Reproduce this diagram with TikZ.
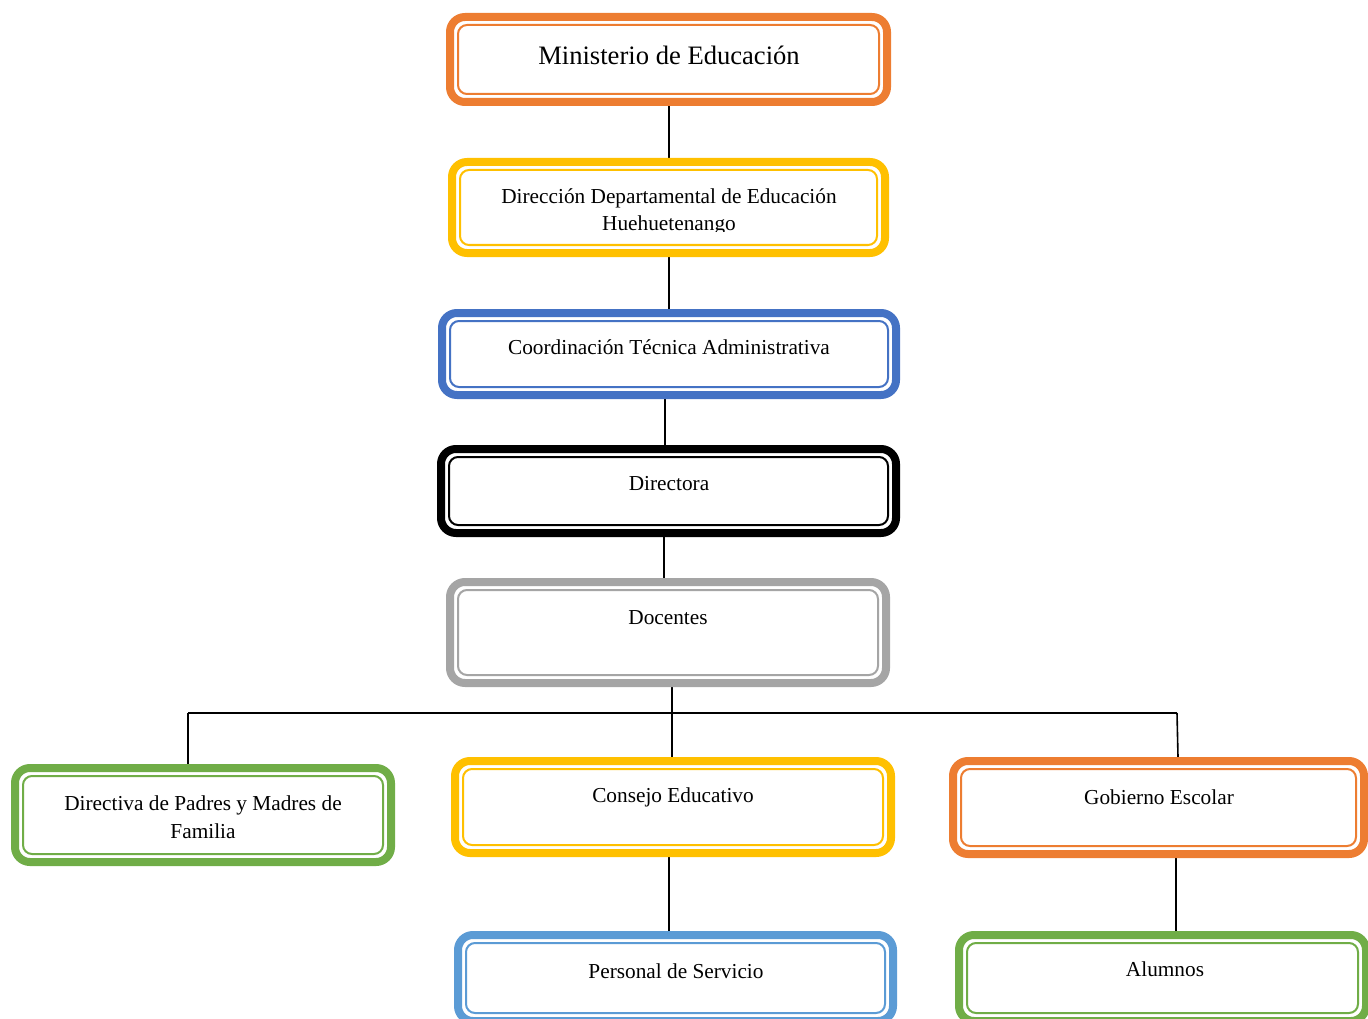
\documentclass[tikz,border=0pt]{standalone}
\usepackage{fontspec}
\setmainfont{Liberation Serif}
\usetikzlibrary{backgrounds}
\definecolor{cOrange}{HTML}{ED7D31}
\definecolor{cYellow}{HTML}{FFC000}
\definecolor{cBlue}{HTML}{4472C4}
\definecolor{cLBlue}{HTML}{5B9BD5}
\definecolor{cGrey}{HTML}{A5A5A5}
\definecolor{cGreen}{HTML}{70AD47}
\begin{document}
\begin{tikzpicture}[x=1pt,y=-1pt,
  orgbox/.style={draw=#1, line width=8pt, fill=white, rounded corners=15pt,
    inner sep=0pt,
    path picture={\draw[#1, line width=2pt, rounded corners=9pt]
      ([shift={(8pt,-8pt)}]path picture bounding box.north west) rectangle
      ([shift={(-8pt,8pt)}]path picture bounding box.south east);}},
  lbl/.style={font=\fontsize{21.3}{27.5}\selectfont, align=center, inner sep=0pt},
  conn/.style={draw=black, line width=1.6pt}]
\useasboundingbox (0,0) rectangle (1368,1019);
\begin{scope}
\clip (0,0) rectangle (1368,1019);
% boxes
\node[orgbox=cOrange, minimum width=437pt, minimum height=85pt] (min) at (668.5,59.5) {};
\node[orgbox=cYellow, minimum width=433pt, minimum height=91pt] (dir) at (668.5,207.5) {};
\node[orgbox=cBlue, minimum width=454pt, minimum height=82pt] (coord) at (669,354) {};
\node[orgbox=black, minimum width=455pt, minimum height=84pt] (dra) at (668.5,491) {};
\node[orgbox=cGrey, minimum width=436pt, minimum height=101pt] (doc) at (668,632.5) {};
\node[orgbox=cGreen, minimum width=376pt, minimum height=94pt] (pad) at (203,815) {};
\node[orgbox=cYellow, minimum width=436pt, minimum height=92pt] (con) at (673,807) {};
\node[orgbox=cOrange, minimum width=411pt, minimum height=93pt] (gob) at (1158.5,807.5) {};
\node[orgbox=cLBlue, minimum width=435pt, minimum height=86pt] (per) at (675.5,978) {};
\node[orgbox=cGreen, minimum width=407pt, minimum height=86pt] (alu) at (1162.5,978) {};
% labels
\node[lbl, font=\fontsize{26.6}{30}\selectfont] (tmin) at (669,55) {Ministerio de Educación};
\begin{scope}
\clip (450,160) rectangle (887,232);
\node[lbl] (tdir) at (669,212) {Dirección Departamental de Educación\\Huehuetenango};
\end{scope}
\node[lbl] (tcoord) at (669,347) {Coordinación Técnica Administrativa};
\node[lbl] (tdra) at (669,484) {Directora};
\node[lbl] (tdoc) at (668,618) {Docentes};
\node[lbl] (tpad) at (203,817) {Directiva de Padres y Madres de\\Familia};
\node[lbl] (tcon) at (673,797) {Consejo Educativo};
\node[lbl] (tgob) at (1159,797) {Gobierno Escolar};
\node[lbl] (tper) at (676,971) {Personal de Servicio};
\node[lbl] (talu) at (1165,969) {Alumnos};
% connectors
\coordinate (busL) at (188,713);
\coordinate (busR) at (1177,713);
\begin{scope}[on background layer]
\draw[conn] (669,0 |- min.south) -- (669,0 |- dir.north);
\draw[conn] (669,0 |- dir.south) -- (669,0 |- coord.north);
\draw[conn] (665,0 |- coord.south) -- (665,0 |- dra.north);
\draw[conn] (664,0 |- dra.south) -- (664,0 |- doc.north);
\draw[conn] (672,0 |- doc.south) -- (672,0 |- con.north);
\draw[conn] (busL) -- (busR);
\draw[conn] (busL) -- (188,0 |- pad.north);
\draw[conn] (busR) -- (1178,0 |- gob.north);
\draw[conn] (669,0 |- con.south) -- (669,0 |- per.north);
\draw[conn] (1176,0 |- gob.south) -- (1176,0 |- alu.north);
\end{scope}
\end{scope}
\end{tikzpicture}
\end{document}
